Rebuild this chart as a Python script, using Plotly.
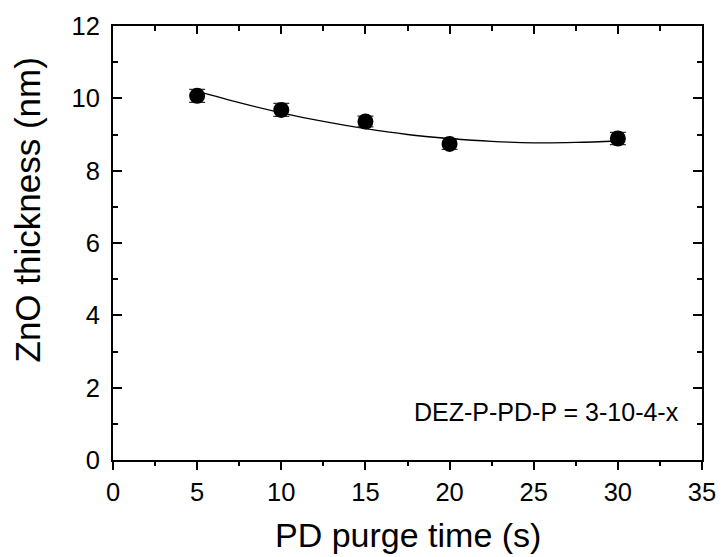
import plotly.graph_objects as go

# Data
purge_time = [5, 10, 15, 20, 30]
thickness = [10.07, 9.68, 9.36, 8.74, 8.89]
thickness_err = [0.18, 0.18, 0.15, 0.15, 0.17]

fit_x = [5, 7.5, 10, 12.5, 15, 17.5, 20, 22.5, 25, 27.5, 30]
fit_y = [10.20, 9.88, 9.60, 9.36, 9.16, 9.00, 8.89, 8.81, 8.77, 8.78, 8.82]

x_ticks = [0, 5, 10, 15, 20, 25, 30, 35]
y_ticks = [0, 2, 4, 6, 8, 10, 12]

FONT = "Liberation Sans, Arial, sans-serif"

fig = go.Figure()
fig.add_trace(go.Scatter(
    x=fit_x, y=fit_y, mode="lines",
    line=dict(color="black", width=1.3, shape="spline"),
    showlegend=False, hoverinfo="skip"))
fig.add_trace(go.Scatter(
    x=purge_time, y=thickness, mode="markers",
    marker=dict(color="black", size=16, symbol="circle"),
    error_y=dict(type="data", array=thickness_err, visible=True,
                 color="#333333", thickness=1.2, width=8),
    showlegend=False))
# invisible trace for top axis
fig.add_trace(go.Scatter(x=[0], y=[0], xaxis="x2", mode="markers",
                         marker=dict(opacity=0), showlegend=False, hoverinfo="skip"))

fig.update_layout(
    width=728, height=557,
    margin=dict(l=113, r=20, t=26, b=97),
    plot_bgcolor="white", paper_bgcolor="white",
    font=dict(family=FONT, color="black"),
    xaxis=dict(range=[0, 35], tickvals=x_ticks, ticktext=[str(v) for v in x_ticks],
               showgrid=False, zeroline=False,
               showline=True, linecolor="black", linewidth=2, mirror=True,
               ticks="outside", ticklen=8, tickwidth=2, tickcolor="black",
               tickfont=dict(size=25.5, family=FONT),
               minor=dict(dtick=2.5, ticks="outside", ticklen=4, tickwidth=2, tickcolor="black")),
    xaxis2=dict(range=[0, 35], overlaying="x", side="top",
                tickvals=x_ticks, showticklabels=False,
                showgrid=False, zeroline=False, showline=False,
                ticks="inside", ticklen=8, tickwidth=2, tickcolor="black",
                minor=dict(dtick=2.5, ticks="inside", ticklen=5, tickwidth=2, tickcolor="black")),
    yaxis=dict(range=[0, 12], tickvals=y_ticks, ticktext=[str(v) for v in y_ticks],
               showgrid=False, zeroline=False,
               showline=True, linecolor="black", linewidth=2, mirror="ticks",
               ticks="inside", ticklen=9, tickwidth=2, tickcolor="black",
               ticklabelstandoff=6,
               tickfont=dict(size=25.5, family=FONT),
               minor=dict(dtick=1, ticks="inside", ticklen=5, tickwidth=2, tickcolor="black")),
    annotations=[
        dict(text="PD purge time (s)", xref="paper", yref="paper",
             x=0.5, y=-0.173, xanchor="center", yanchor="middle",
             showarrow=False, font=dict(size=34, family=FONT)),
        dict(text="ZnO thickness (nm)", xref="paper", yref="paper",
             x=-0.1445, y=0.577, xanchor="center", yanchor="middle", textangle=-90,
             showarrow=False, font=dict(size=35, family=FONT)),
        dict(text="DEZ-P-PD-P = 3-10-4-x", xref="paper", yref="paper",
             x=0.965, y=0.1106, xanchor="right", yanchor="middle",
             showarrow=False, font=dict(size=25, family=FONT)),
    ],
)

fig.write_html("out.html")
